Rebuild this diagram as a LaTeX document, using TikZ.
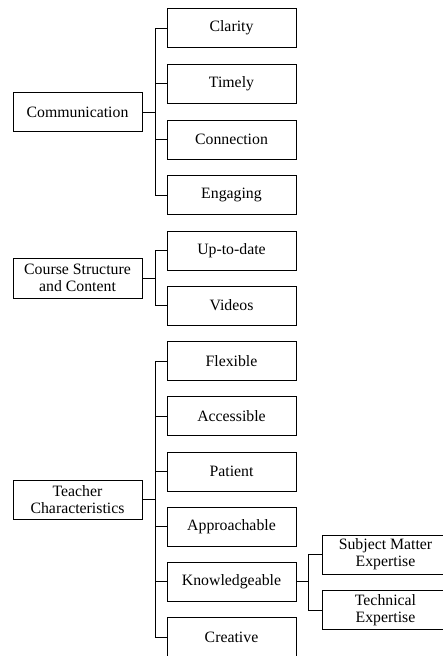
\documentclass[tikz,border=0pt]{standalone}
\usepackage{fontspec}
\setmainfont{Liberation Serif}
\usepackage{tikz}

\tikzset{
  box/.style={draw, line width=0.8pt, minimum width=129pt, minimum height=39pt,
    inner sep=1pt, align=center, font=\fontsize{15.8}{17}\selectfont},
  subbox/.style={box, minimum width=127pt},
  branch/.style={line width=0.8pt}
}

\begin{document}
\begin{tikzpicture}[x=1pt,y=-1pt]
    \useasboundingbox (0,0) rectangle (442,656);
    \begin{scope}
      \node[box] (comm) at (77.5,112) {Communication};
      \foreach \name/\txt [count=\i from 0] in {clarity/Clarity,timely/Timely,connection/Connection,engaging/Engaging}
      {
        \node[box] (\name) at (231.5,28+55.7*\i) {\txt};
        \draw[branch] (comm.east) -- ++(13,0) |- (\name.west);
      }
    \end{scope}
    \begin{scope}
      \node[box, minimum height=40pt] (course) at (77.5,278) {Course Structure\\and Content};
      \foreach \name/\txt [count=\i from 0] in {uptodate/Up-to-date,videos/Videos}
      {
        \node[box] (\name) at (231.5,250.5+55*\i) {\txt};
        \draw[branch] (course.east) -- ++(13,0) |- (\name.west);
      }
    \end{scope}
    \begin{scope}
      \node[box] (teacher) at (77.5,499.5) {Teacher\\Characteristics};
      \foreach \name/\txt [count=\i from 0] in {flexible/Flexible,accessible/Accessible,patient/Patient,approachable/Approachable,knowledge/Knowledgeable,creative/Creative}
      {
        \node[box] (\name) at (231.5,361+55.2*\i) {\txt};
        \draw[branch] (teacher.east) -- ++(13,0) |- (\name.west);
      }
      \node[subbox] (subject) at (385.5,554.5) {Subject Matter\\Expertise};
      \node[subbox] (technical) at (385.5,610) {Technical\\Expertise};
      \draw[branch] (knowledge.east) -- ++(12,0) |- (subject.west);
      \draw[branch] (knowledge.east) -- ++(12,0) |- (technical.west);
    \end{scope}
\end{tikzpicture}
\end{document}
